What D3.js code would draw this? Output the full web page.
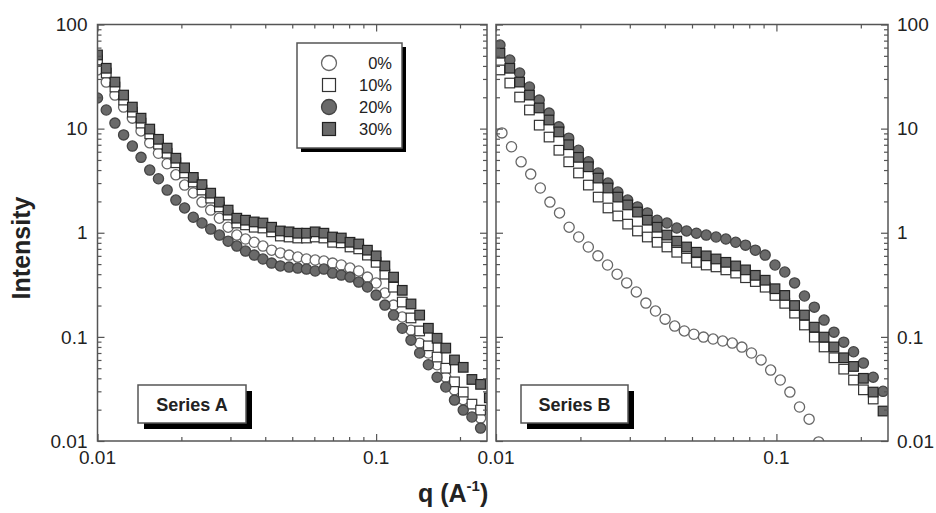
<!DOCTYPE html>
<html>
<head>
<meta charset="utf-8">
<script src="https://cdn.jsdelivr.net/npm/d3@7"></script>
<style>
  body { margin: 0; background: #fff; }
  svg { display: block; font-family: "Liberation Sans", Arial, Helvetica, sans-serif; }
</style>
</head>
<body>
<svg id="chart" width="936" height="513"></svg>
<script>
// q values of the measured points (A^-1), one grid per panel
const qA = [0.01000, 0.01075, 0.01155, 0.01241, 0.01334, 0.01433, 0.01540, 0.01655, 0.01778, 0.01911,
            0.02054, 0.02207, 0.02371, 0.02548, 0.02738, 0.02943, 0.03162, 0.03398, 0.03652, 0.03924,
            0.04217, 0.04532, 0.04870, 0.05233, 0.05623, 0.06043, 0.06494, 0.06978, 0.07499, 0.08058,
            0.08660, 0.09306, 0.1000, 0.1075, 0.1155, 0.1241, 0.1334, 0.1433, 0.1540, 0.1655,
            0.1778, 0.1911, 0.2054, 0.2207, 0.2371, 0.2548];
const qB = [0.01033, 0.01120, 0.01214, 0.01316, 0.01426, 0.01546, 0.01676, 0.01817, 0.01969, 0.02135,
            0.02314, 0.02508, 0.02719, 0.02948, 0.03195, 0.03464, 0.03755, 0.04070, 0.04412, 0.04782,
            0.05184, 0.05620, 0.06092, 0.06603, 0.07158, 0.07759, 0.08411, 0.09118, 0.09884, 0.1071,
            0.1161, 0.1259, 0.1365, 0.1479, 0.1604, 0.1738, 0.1884, 0.2043, 0.2214, 0.2400];
// the 0% run of series B sits on a slightly tighter grid
const qB0 = [0.01050, 0.01136, 0.01229, 0.01330, 0.01439, 0.01557, 0.01685, 0.01823, 0.01972, 0.02134,
             0.02309, 0.02499, 0.02703, 0.02925, 0.03165, 0.03424, 0.03705, 0.04009, 0.04338, 0.04694,
             0.05078, 0.05495, 0.05945, 0.06433, 0.06960, 0.07531, 0.08149, 0.08817, 0.09540, 0.1032,
             0.1117, 0.1209, 0.1308, 0.1415];

// Series A intensities
const seriesA0 = [36.6, 28, 21, 16.1, 12.6, 9.5, 7.3, 5.8, 4.6, 3.6, 2.87, 2.41, 1.97, 1.65, 1.38, 1.13,
                  0.95, 0.87, 0.81, 0.745, 0.68, 0.64, 0.61, 0.584, 0.559, 0.547, 0.535, 0.511, 0.49, 0.458,
                  0.429, 0.375, 0.329, 0.264, 0.202, 0.155, 0.116, 0.087, 0.070, 0.054, 0.041, 0.031, 0.025,
                  0.0198, 0.0166];
const seriesA10 = [45.6, 34.2, 25.1, 18.8, 14.4, 11.3, 8.9, 7.1, 5.8, 4.7, 3.75, 3.07, 2.57, 2.15, 1.77, 1.48,
                   1.24, 1.19, 1.13, 1.11, 1.02, 0.93, 0.91, 0.89, 0.89, 0.91, 0.89, 0.81, 0.80, 0.73, 0.70,
                   0.61, 0.52, 0.40, 0.30, 0.216, 0.152, 0.114, 0.082, 0.064, 0.050, 0.037, 0.0295, 0.0226,
                   0.0198];
const seriesA20 = [19.7, 15.1, 11.3, 8.7, 6.8, 5.3, 4.0, 3.3, 2.57, 2.06, 1.73, 1.41, 1.24, 1.085, 0.95, 0.83,
                   0.745, 0.667, 0.61, 0.559, 0.511, 0.48, 0.468, 0.458, 0.448, 0.429, 0.448, 0.41, 0.392,
                   0.375, 0.336, 0.301, 0.252, 0.202, 0.162, 0.121, 0.093, 0.070, 0.054, 0.041, 0.033,
                   0.0247, 0.0198, 0.017, 0.0133];
const seriesA30 = [51, 38, 28, 21, 16.1, 12.6, 9.9, 7.9, 6.5, 5.2, 4.2, 3.4, 2.9, 2.4, 1.97, 1.65, 1.38,
                   1.32, 1.27, 1.24, 1.13, 1.04, 1.02, 0.99, 0.99, 1.02, 0.99, 0.91, 0.89, 0.81, 0.78, 0.68,
                   0.60, 0.48, 0.375, 0.28, 0.207, 0.162, 0.121, 0.097, 0.078, 0.060, 0.051, 0.039, 0.035,
                   0.026];

// Series B intensities
const seriesB0 = [9.1, 6.7, 4.8, 3.66, 2.69, 1.97, 1.55, 1.13, 0.91, 0.73, 0.60, 0.49, 0.40, 0.33, 0.27,
                  0.211, 0.177, 0.148, 0.127, 0.114, 0.106, 0.0995, 0.0953, 0.0912, 0.0872, 0.0798, 0.070,
                  0.060, 0.048, 0.0385, 0.0295, 0.0212, 0.0162, 0.0098];
const seriesB10 = [36.6, 27.4, 20.1, 15.1, 10.8, 8.3, 6.2, 4.8, 3.75, 2.87, 2.2, 1.73, 1.45, 1.21, 1.04,
                   0.91, 0.81, 0.73, 0.65, 0.57, 0.52, 0.49, 0.47, 0.44, 0.41, 0.37, 0.34, 0.30, 0.25, 0.21,
                   0.169, 0.130, 0.0995, 0.080, 0.063, 0.049, 0.0385, 0.031, 0.0253];
const seriesB20 = [63.5, 45.6, 34.2, 25.1, 18.8, 14.1, 10.4, 8.1, 6.2, 4.8, 3.75, 3.0, 2.46, 2.06, 1.77,
                   1.55, 1.32, 1.24, 1.11, 1.04, 0.99, 0.95, 0.91, 0.87, 0.81, 0.76, 0.68, 0.61, 0.49, 0.42,
                   0.33, 0.247, 0.193, 0.145, 0.111, 0.089, 0.072, 0.056, 0.041, 0.030];
const seriesB30 = [53, 38, 28, 21, 15.8, 12.1, 9.3, 7.0, 5.3, 4.3, 3.35, 2.69, 2.2, 1.85, 1.58, 1.32, 1.13,
                   0.95, 0.83, 0.73, 0.65, 0.60, 0.56, 0.52, 0.48, 0.44, 0.39, 0.35, 0.29, 0.25, 0.20,
                   0.162, 0.124, 0.0995, 0.080, 0.063, 0.052, 0.040, 0.0295, 0.0194];

const legendLabels = ["0%", "10%", "20%", "30%"];
const panelNames = ["Series A", "Series B"];
const xTickValues = [0.01, 0.1];
const xTickLabels = ["0.01", "0.1"];
const yTickValues = [100, 10, 1, 0.1, 0.01];
const yTickLabels = ["100", "10", "1", "0.1", "0.01"];

// marker look per concentration, same order as legendLabels
const styles = [
  { shape: "circle", fill: "#ffffff", stroke: "#666666" },
  { shape: "square", fill: "#ffffff", stroke: "#333333" },
  { shape: "circle", fill: "#6a6a6a", stroke: "#444444" },
  { shape: "square", fill: "#6a6a6a", stroke: "#222222" }
];

const svg = d3.select("#chart");
const plotTop = 24.5, plotBottom = 441;
const frameColor = "#555";

const y = d3.scaleLog().domain([0.01, 100]).range([plotBottom, plotTop]);

// minor ticks of a log axis (2..9 in every decade) inside the domain
function minorTicks(lo, hi) {
  const out = [];
  for (let d = lo; d < hi; d *= 10) {
    for (let k = 2; k <= 9; k++) if (d * k < hi * 0.999) out.push(d * k);
  }
  return out;
}

function drawMarker(sel, style, cx, cy, size) {
  if (style.shape === "circle") {
    sel.append("circle").attr("cx", cx).attr("cy", cy).attr("r", size / 2)
       .attr("fill", style.fill).attr("stroke", style.stroke).attr("stroke-width", 1.3);
  } else {
    sel.append("rect").attr("x", cx - size / 2).attr("y", cy - size / 2)
       .attr("width", size).attr("height", size)
       .attr("fill", style.fill).attr("stroke", style.stroke).attr("stroke-width", 1.2);
  }
}

const panels = [
  { name: panelNames[0], q: [qA, qA, qA, qA], series: [seriesA0, seriesA10, seriesA20, seriesA30],
    left: 97.5, right: 487, box: { x: 138, w: 108 }, labelSide: "left" },
  { name: panelNames[1], q: [qB0, qB, qB, qB], series: [seriesB0, seriesB10, seriesB20, seriesB30],
    left: 496, right: 888, box: { x: 521, w: 107 }, labelSide: "right" }
];

panels.forEach((p, pi) => {
  const x = d3.scaleLog().domain([0.01, 0.25]).range([p.left, p.right]);
  const g = svg.append("g");

  // Clip the markers to the frame
  const clipId = `clip${pi}`;
  svg.append("clipPath").attr("id", clipId)
     .append("rect").attr("x", p.left).attr("y", plotTop)
     .attr("width", p.right - p.left).attr("height", plotBottom - plotTop);

  const marks = g.append("g").attr("clip-path", `url(#${clipId})`);
  p.series.forEach((values, si) => {
    const st = styles[si];
    const q = p.q[si];
    const sg = marks.append("g");
    if (st.shape === "circle") {
      sg.selectAll("circle").data(values).join("circle")
        .attr("cx", (d, i) => x(q[i]))
        .attr("cy", d => y(d))
        .attr("r", 5.1)
        .attr("fill", st.fill).attr("stroke", st.stroke).attr("stroke-width", 1.3);
    } else {
      sg.selectAll("rect").data(values).join("rect")
        .attr("x", (d, i) => x(q[i]) - 4.8)
        .attr("y", d => y(d) - 4.8)
        .attr("width", 9.6).attr("height", 9.6)
        .attr("fill", st.fill).attr("stroke", st.stroke).attr("stroke-width", 1.2);
    }
  });

  // Inward ticks on all four sides
  const xMinor = minorTicks(0.01, 0.25);
  const yMinor = minorTicks(0.01, 100);
  const tickAxes = [
    [d3.axisTop(x).tickValues(xTickValues).tickSize(7), `translate(0,${plotBottom})`],
    [d3.axisTop(x).tickValues(xMinor).tickSize(4), `translate(0,${plotBottom})`],
    [d3.axisBottom(x).tickValues(xTickValues).tickSize(7), `translate(0,${plotTop})`],
    [d3.axisBottom(x).tickValues(xMinor).tickSize(4), `translate(0,${plotTop})`],
    [d3.axisRight(y).tickValues(yTickValues).tickSize(7), `translate(${p.left},0)`],
    [d3.axisRight(y).tickValues(yMinor).tickSize(4), `translate(${p.left},0)`],
    [d3.axisLeft(y).tickValues(yTickValues).tickSize(7), `translate(${p.right},0)`],
    [d3.axisLeft(y).tickValues(yMinor).tickSize(4), `translate(${p.right},0)`]
  ];
  tickAxes.forEach(([axis, tr]) => {
    const a = g.append("g").attr("transform", tr).call(axis.tickFormat("").tickSizeOuter(0));
    a.select(".domain").remove();
    a.selectAll("text").remove();
    a.selectAll("line").attr("stroke", frameColor).attr("stroke-width", 1.2);
  });

  g.append("rect")
   .attr("x", p.left).attr("y", plotTop)
   .attr("width", p.right - p.left).attr("height", plotBottom - plotTop)
   .attr("fill", "none").attr("stroke", frameColor).attr("stroke-width", 1.5);

  // x tick labels
  g.selectAll("text.xlab").data(xTickValues).join("text")
   .attr("class", "xlab")
   .attr("x", d => x(d)).attr("y", 464)
   .attr("text-anchor", "middle")
   .attr("font-size", 19).attr("fill", "#222")
   .text((d, i) => xTickLabels[i]);

  // y tick labels on the outer side
  const lx = p.labelSide === "left" ? p.left - 10 : p.right + 9;
  g.selectAll("text.ylab").data(yTickValues).join("text")
   .attr("class", "ylab")
   .attr("x", lx).attr("y", d => y(d))
   .attr("dy", "0.35em")
   .attr("text-anchor", p.labelSide === "left" ? "end" : "start")
   .attr("font-size", 19).attr("fill", "#222")
   .text((d, i) => yTickLabels[i]);

  // Series name box with shadow
  const bx = p.box.x, by = 385, bh = 38;
  g.append("rect").attr("x", bx + 6).attr("y", by + 6).attr("width", p.box.w).attr("height", bh)
   .attr("fill", "#000");
  g.append("rect").attr("x", bx).attr("y", by).attr("width", p.box.w).attr("height", bh)
   .attr("fill", "#fff").attr("stroke", frameColor).attr("stroke-width", 1.5);
  g.append("text").attr("x", bx + p.box.w / 2).attr("y", by + 26)
   .attr("text-anchor", "middle").attr("font-size", 18).attr("font-weight", "bold")
   .attr("fill", "#222").text(p.name);
});

// Legend
const legend = svg.append("g");
const lgX = 297, lgY = 43, lgW = 105, lgH = 105;
legend.append("rect").attr("x", lgX + 4).attr("y", lgY + 4).attr("width", lgW).attr("height", lgH).attr("fill", "#000");
legend.append("rect").attr("x", lgX).attr("y", lgY).attr("width", lgW).attr("height", lgH)
      .attr("fill", "#fff").attr("stroke", frameColor).attr("stroke-width", 1.5);
legendLabels.forEach((label, i) => {
  const cy = 63 + i * 22;
  drawMarker(legend, styles[i], 329, cy, styles[i].shape === "circle" ? 15 : 13);
  legend.append("text").attr("x", 392).attr("y", cy).attr("dy", "0.36em")
        .attr("text-anchor", "end").attr("font-size", 16.5).attr("fill", "#222").text(label);
});

// Axis titles
svg.append("text")
   .attr("transform", "translate(30,248) rotate(-90)")
   .attr("text-anchor", "middle").attr("font-size", 25).attr("font-weight", "bold")
   .attr("fill", "#222").text("Intensity");

const xTitle = svg.append("text").attr("x", 418).attr("y", 502)
   .attr("font-size", 25).attr("font-weight", "bold").attr("fill", "#222");
xTitle.append("tspan").text("q (A");
xTitle.append("tspan").attr("font-size", 15).attr("dy", -11).text("-1");
xTitle.append("tspan").attr("dy", 11).text(")");
</script>
</body>
</html>
